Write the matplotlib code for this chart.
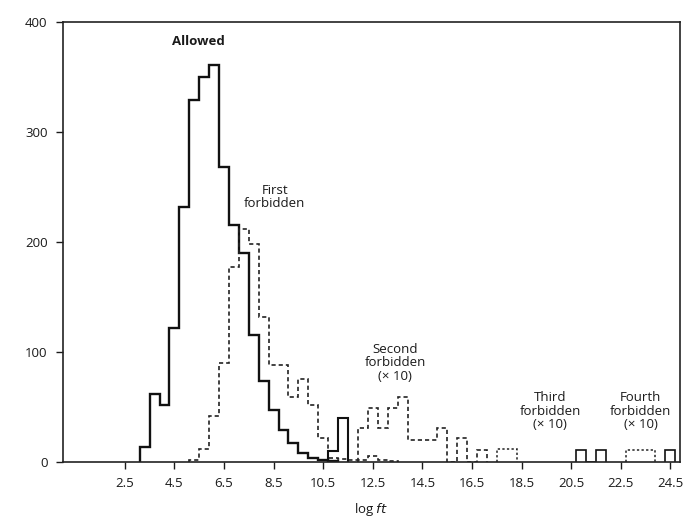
import matplotlib
matplotlib.use('Agg')
import matplotlib.pyplot as plt
import numpy as np

plt.rcParams['font.family'] = ['Open Sans', 'DejaVu Sans']

# histogram bins: width 0.4 in log ft, first edge at 3.1
bin_start = 3.1
bin_width = 0.4

# counts per bin, with index of first bin
allowed_first_bin = 0
allowed_counts = [14, 62, 52, 122, 232, 329, 350, 361, 268, 215, 190, 115,
                  74, 47, 29, 17, 8, 4, 2, 1]

first_first_bin = 5
first_counts = [2, 12, 42, 90, 177, 212, 198, 132, 88, 88, 59, 75, 52, 22,
                4, 3, 2, 2, 5, 2, 1]

second_solid_first_bin = 19
second_solid_counts = [10, 40]

second_first_bin = 22
second_counts = [31, 49, 31, 49, 59, 20, 20, 20, 31, 0, 22, 0, 11]

third_first_bin = 36
third_counts = [12, 12]
third_solid_first_bin = 44
third_solid_counts = [11, 0, 11]

fourth_first_bin = 49
fourth_counts = [11, 11, 11]
fourth_solid_first_bin = 53
fourth_solid_counts = [11]

xticks = [2.5, 4.5, 6.5, 8.5, 10.5, 12.5, 14.5, 16.5, 18.5, 20.5, 22.5, 24.5]
yticks = [0, 100, 200, 300, 400]


def edges(first_bin, counts):
    k = np.arange(first_bin, first_bin + len(counts) + 1)
    return bin_start + bin_width * k


fig = plt.figure(figsize=(6.83, 5.22), dpi=100)
ax = fig.add_axes([0.092, 0.115, 0.904, 0.843])

ax.stairs(allowed_counts, edges(allowed_first_bin, allowed_counts),
          baseline=0, color='#111111', lw=1.7)
ax.stairs(first_counts, edges(first_first_bin, first_counts),
          baseline=0, color='#222222', lw=1.2, linestyle=(0, (2.5, 1.8)))
ax.stairs(second_solid_counts, edges(second_solid_first_bin, second_solid_counts),
          baseline=0, color='#111111', lw=1.5)
ax.stairs(second_counts, edges(second_first_bin, second_counts),
          baseline=0, color='#222222', lw=1.2, linestyle=(0, (2.5, 1.8)))
ax.stairs(third_counts, edges(third_first_bin, third_counts),
          baseline=0, color='#222222', lw=1.1, linestyle=(0, (1.5, 1.5)))
ax.stairs(third_solid_counts, edges(third_solid_first_bin, third_solid_counts),
          baseline=0, color='#111111', lw=1.2)
ax.stairs(fourth_counts, edges(fourth_first_bin, fourth_counts),
          baseline=0, color='#222222', lw=1.1, linestyle=(0, (1.5, 1.5)))
ax.stairs(fourth_solid_counts, edges(fourth_solid_first_bin, fourth_solid_counts),
          baseline=0, color='#111111', lw=1.2)

txt = dict(ha='center', va='center', fontsize=9.5, color='#1a1a1a', linespacing=1.05)
ax.text(5.45, 382, 'Allowed', fontweight='bold', **txt)
ax.text(8.55, 241, 'First\nforbidden', **txt)
ax.text(13.4, 90, 'Second\nforbidden\n(\u00d7 10)', **txt)
ax.text(19.65, 46, 'Third\nforbidden\n(\u00d7 10)', **txt)
ax.text(23.3, 46, 'Fourth\nforbidden\n(\u00d7 10)', **txt)

ax.set_xlim(0, 24.9)
ax.set_ylim(0, 400)
ax.set_xticks(xticks)
ax.set_xticklabels([str(t) for t in xticks])
ax.set_yticks(yticks)
ax.tick_params(direction='out', length=5, width=1, colors='#1a1a1a',
               labelsize=9.5)
ax.tick_params(axis='x', pad=6)
ax.tick_params(axis='y', pad=6)
for s in ax.spines.values():
    s.set_linewidth(1.2)
    s.set_color('#222222')
ax.set_xlabel(r'log $\mathit{ft}$', fontsize=9.5, color='#1a1a1a', labelpad=8)

fig.savefig('out.png', dpi=100)
